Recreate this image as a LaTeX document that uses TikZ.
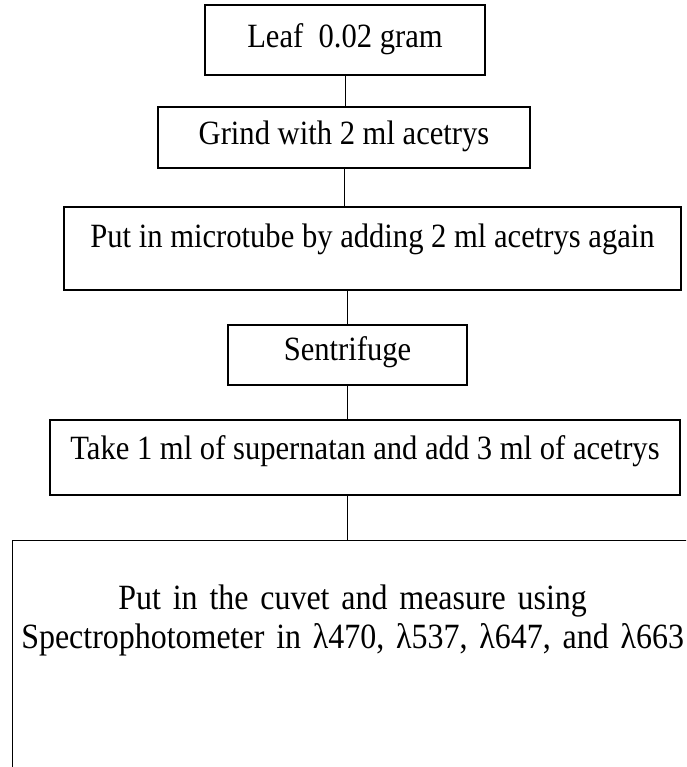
\documentclass[tikz,border=0pt]{standalone}
\usepackage{fontspec}
\setmainfont{Liberation Serif}[FakeStretch=0.9]
\usetikzlibrary{positioning}
\tikzset{
  stepbox/.style={
    draw, line width=1.3pt, inner sep=0pt, align=center,
    font=\fontsize{34}{38}\selectfont, text height=24pt, text depth=9pt
  },
  link/.style={line width=1pt}
}

\begin{document}
\begin{tikzpicture}[x=1pt,y=1pt]
  \useasboundingbox (0,0) rectangle (686,-767);
  \clip (0,0) rectangle (686,-767);
  \node[stepbox, minimum width=280pt, minimum height=70pt] (leaf) at (345,-40) {Leaf\ \ 0.02 gram};
  \node[stepbox, minimum width=372pt, minimum height=61pt] (grind) at (344,-137.5) {Grind with 2 ml acetrys};
  \node[stepbox, minimum width=617pt, minimum height=83pt, text depth=26pt] (tube) at (372.5,-248.5) {Put in microtube by adding 2 ml acetrys again};
  \node[stepbox, minimum width=239pt, minimum height=60pt, text depth=13pt] (spin) at (347.5,-355) {Sentrifuge};
  \node[stepbox, minimum width=630pt, minimum height=75pt, text depth=20pt] (take) at (365,-457.5) {Take 1 ml of supernatan and add 3 ml of acetrys};
  \node[stepbox, anchor=north west, text width=680pt, inner ysep=45pt, text depth=200pt,
    font=\fontsize{35.5}{39}\selectfont] (cuvet) at (12,-540)
    {Put in the cuvet and measure using\\ Spectrophotometer in λ470, λ537, λ647, and λ663};
  % connectors
  \draw[link] (leaf.south) -- (leaf.south |- grind.north);
  \draw[link] (grind.south) -- (grind.south |- tube.north);
  \draw[link] (spin.north |- tube.south) -- (spin.north);
  \draw[link] (spin.south) -- (spin.south |- take.north);
  \draw[link] (spin.south |- take.south) -- (spin.south |- cuvet.north);
\end{tikzpicture}
\end{document}
